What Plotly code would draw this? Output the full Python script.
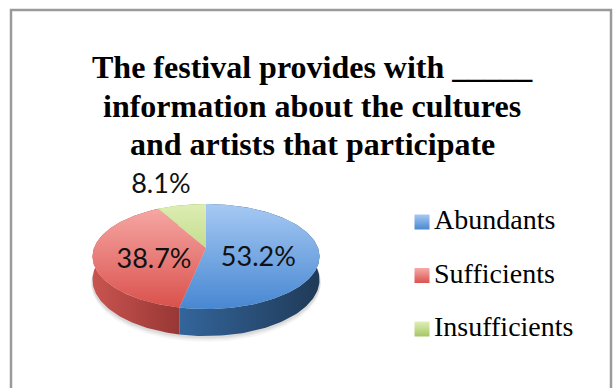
import numpy as np
import plotly.graph_objects as go

# ---- data ----
categories = ["Abundants", "Sufficients", "Insufficients"]
shares = [53.2, 38.7, 8.1]
value_labels = ["53.2%", "38.7%", "8.1%"]
title_lines = [
    "The festival provides with _____",
    "information about the cultures",
    "and artists that participate",
]

# ---- styling ----
W, H = 614, 388
TOP_COLORS = [("#A6C9F3", "#4787D2"), ("#F7ABA8", "#DA504B"), ("#DDEEB2", "#A3C462")]
SIDE_COLORS = [("#33659C", "#203A57"), ("#C9544F", "#973735"), ("#93B050", "#6E8A35")]
KEY_COLORS = [("#A6C9F3", "#4A88D0"), ("#F7ABA8", "#D9534E"), ("#DFF0B6", "#A6C565")]
SERIF = "Liberation Serif, Times New Roman, DejaVu Serif, serif"
SANS = "Lato, Noto Sans, sans-serif"

# perspective disc: u to the right, v away from the viewer
CX, RX = 206.0, 112.0
A0, B0, C0 = 248.0, -11.0, 0.162
DEPTH = 27.0


def project(u, v, drop=0.0):
    den = 1.0 + C0 * v
    x = CX + RX * u / den
    y = (A0 + B0 * v + drop * (1.0 - C0)) / den
    return x, y


def arc(t0, t1, n=120):
    t = np.radians(np.linspace(t0, t1, n))
    return np.sin(t), np.cos(t)


fig = go.Figure()

# soft shadow beneath the disc
for k, op in [(5, 0.04), (3, 0.05), (1.5, 0.06)]:
    u, v = arc(0, 360, 240)
    x, y = project(u * 1.01, v * 1.01, DEPTH + k)
    fig.add_trace(go.Scatter(x=x, y=y, mode="lines", fill="toself",
                             fillcolor=f"rgba(0,0,0,{op})", line=dict(width=0),
                             hoverinfo="skip"))

# slice angle ranges, clockwise from 12 o'clock
total = sum(shares)
bounds = np.concatenate([[0.0], np.cumsum(shares) / total * 360.0])

# outer walls
for i in range(len(shares)):
    u, v = arc(bounds[i], bounds[i + 1])
    xt, yt = project(u, v)
    xb, yb = project(u, v, DEPTH)
    xs = np.concatenate([xt, xb[::-1], xt[:1]])
    ys = np.concatenate([yt, yb[::-1], yt[:1]])
    fig.add_trace(go.Scatter(
        x=xs, y=ys, mode="lines", fill="toself", line=dict(width=0),
        fillgradient=dict(type="horizontal",
                          colorscale=[[0, SIDE_COLORS[i][0]], [1, SIDE_COLORS[i][1]]],
                          start=float(xs.min()), stop=float(xs.max())),
        hoverinfo="skip"))

# top faces
_, ytop = project(0.0, 1.0)
_, ybot = project(0.0, -1.0)
for i in range(len(shares)):
    u, v = arc(bounds[i], bounds[i + 1])
    xt, yt = project(u, v)
    x0, y0 = project(0.0, 0.0)
    xs = np.concatenate([[x0], xt, [x0]])
    ys = np.concatenate([[y0], yt, [y0]])
    fig.add_trace(go.Scatter(
        x=xs, y=ys, mode="lines", fill="toself", line=dict(width=0),
        fillgradient=dict(type="vertical",
                          colorscale=[[0, TOP_COLORS[i][0]], [1, TOP_COLORS[i][1]]],
                          start=float(ytop), stop=float(ybot)),
        name=categories[i], hoverinfo="skip"))

# value labels
CY_FLAT, RY_FLAT = 257.0, 52.5
lab_x, lab_y = [], []
for i in range(len(shares)):
    mid = np.radians((bounds[i] + bounds[i + 1]) / 2)
    if shares[i] >= 15:
        rx_f, ry_f = 0.47, 0.5
    else:
        rx_f, ry_f = 1.6, 1.4
    lab_x.append(CX + RX * rx_f * np.sin(mid))
    lab_y.append(CY_FLAT - RY_FLAT * ry_f * np.cos(mid))
fig.add_trace(go.Scatter(x=lab_x, y=lab_y, mode="text", text=value_labels,
                         textposition="middle center",
                         textfont=dict(family=SANS, size=27, color="#111111"),
                         hoverinfo="skip"))

# legend key
KEY_X, KEY_Y0, KEY_DY = 422.0, 222.0, 53.5
key_y = [KEY_Y0 + KEY_DY * i for i in range(len(categories))]
for i in range(len(categories)):
    fig.add_trace(go.Scatter(
        x=[KEY_X], y=[key_y[i]], mode="markers",
        marker=dict(symbol="square", size=15, color=KEY_COLORS[i][0],
                    gradient=dict(type="vertical", color=KEY_COLORS[i][1]),
                    line=dict(width=0)),
        hoverinfo="skip"))
fig.add_trace(go.Scatter(x=[KEY_X + 12] * len(categories), y=key_y, mode="text",
                         text=categories, textposition="middle right",
                         textfont=dict(family=SERIF, size=28, color="#000000"),
                         hoverinfo="skip"))

# title
TITLE_Y = [67, 106, 144]
for line, ty in zip(title_lines, TITLE_Y):
    fig.add_annotation(x=312, y=ty, text=line, showarrow=False,
                       xanchor="center", yanchor="middle",
                       font=dict(family=SERIF, size=32, color="#000000",
                                 weight="bold"))

# chart frame
fig.add_shape(type="rect", x0=11, y0=10, x1=611, y1=430,
              line=dict(color="#9A9A9A", width=2.5), fillcolor="rgba(0,0,0,0)")

fig.update_layout(
    width=W, height=H, margin=dict(l=0, r=0, t=0, b=0),
    paper_bgcolor="white", plot_bgcolor="white", showlegend=False,
    xaxis=dict(range=[0, W], visible=False, fixedrange=True),
    yaxis=dict(range=[H, 0], visible=False, fixedrange=True),
)

fig.write_html("out.html")
